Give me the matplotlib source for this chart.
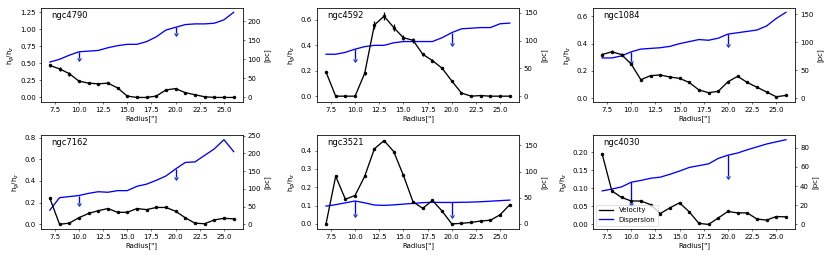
import numpy as np
import matplotlib
matplotlib.use("Agg")
import matplotlib.pyplot as plt
from matplotlib.ticker import MultipleLocator
from matplotlib.lines import Line2D

plt.rcParams['lines.linewidth'] = 1.9

# radii sampled in every galaxy (arcsec)
radius = list(range(7, 27))

galaxies = ["ngc4790", "ngc4592", "ngc1084", "ngc7162", "ngc3521", "ngc4030"]

# velocity based ratio h_g/h_z
vel_4790 = [0.47, 0.42, 0.35, 0.24, 0.21, 0.20, 0.21, 0.14, 0.02, 0.0, 0.0, 0.02, 0.11, 0.13, 0.07, 0.04, 0.01, 0.0, 0.0, 0.0]
vel_4592 = [0.19, 0.0, 0.0, 0.0, 0.18, 0.56, 0.63, 0.54, 0.46, 0.44, 0.33, 0.28, 0.22, 0.12, 0.025, 0.0, 0.005, 0.0, 0.0, 0.0]
vel_1084 = [0.32, 0.34, 0.32, 0.25, 0.135, 0.165, 0.17, 0.155, 0.145, 0.115, 0.06, 0.04, 0.05, 0.12, 0.16, 0.115, 0.08, 0.045, 0.01, 0.02]
vel_7162 = [0.24, 0.0, 0.01, 0.06, 0.10, 0.125, 0.145, 0.11, 0.11, 0.145, 0.135, 0.155, 0.155, 0.12, 0.06, 0.01, 0.005, 0.04, 0.055, 0.05]
vel_3521 = [0.0, 0.26, 0.135, 0.155, 0.26, 0.41, 0.455, 0.395, 0.265, 0.12, 0.085, 0.128, 0.07, 0.0, 0.003, 0.008, 0.016, 0.02, 0.05, 0.105]
vel_4030 = [0.195, 0.093, 0.075, 0.065, 0.065, 0.055, 0.03, 0.046, 0.06, 0.035, 0.003, 0.0, 0.018, 0.036, 0.032, 0.032, 0.015, 0.012, 0.022, 0.021]

# small uncertainties on the velocity ratio
err_4790 = [0.02, 0.03, 0.03, 0.01, 0.01, 0.01, 0.01, 0.01, 0.01, 0.0, 0.0, 0.01, 0.01, 0.01, 0.01, 0.01, 0.0, 0.0, 0.0, 0.0]
err_4592 = [0.01, 0.0, 0.01, 0.0, 0.01, 0.03, 0.03, 0.03, 0.02, 0.02, 0.01, 0.01, 0.01, 0.01, 0.0, 0.0, 0.0, 0.0, 0.0, 0.0]
err_1084 = [0.01, 0.01, 0.01, 0.01, 0.005, 0.005, 0.005, 0.005, 0.005, 0.005, 0.005, 0.005, 0.005, 0.005, 0.005, 0.005, 0.005, 0.005, 0.005, 0.005]
err_7162 = [0.01, 0.005, 0.005, 0.005, 0.005, 0.005, 0.005, 0.005, 0.005, 0.005, 0.005, 0.005, 0.005, 0.005, 0.005, 0.005, 0.005, 0.005, 0.005, 0.005]
err_3521 = [0.005, 0.005, 0.005, 0.005, 0.005, 0.005, 0.005, 0.005, 0.005, 0.005, 0.005, 0.005, 0.005, 0.005, 0.002, 0.002, 0.002, 0.002, 0.002, 0.002]
err_4030 = [0.002, 0.002, 0.002, 0.002, 0.002, 0.002, 0.002, 0.002, 0.002, 0.002, 0.001, 0.001, 0.001, 0.001, 0.001, 0.001, 0.001, 0.001, 0.001, 0.001]

# dispersion based ratio h_g/h_z
disp_4790 = [0.52, 0.56, 0.62, 0.67, 0.68, 0.69, 0.73, 0.76, 0.78, 0.78, 0.82, 0.89, 0.99, 1.03, 1.07, 1.08, 1.08, 1.09, 1.14, 1.25]
disp_4592 = [0.33, 0.33, 0.345, 0.37, 0.39, 0.40, 0.40, 0.42, 0.43, 0.43, 0.43, 0.43, 0.46, 0.50, 0.53, 0.535, 0.54, 0.54, 0.57, 0.575]
disp_1084 = [0.295, 0.295, 0.31, 0.34, 0.36, 0.365, 0.37, 0.38, 0.40, 0.415, 0.43, 0.425, 0.44, 0.47, 0.48, 0.49, 0.50, 0.53, 0.585, 0.63]
disp_7162 = [0.13, 0.245, 0.255, 0.265, 0.285, 0.30, 0.295, 0.31, 0.31, 0.35, 0.37, 0.405, 0.445, 0.51, 0.57, 0.575, 0.635, 0.695, 0.78, 0.67]
disp_3521 = [0.097, 0.105, 0.115, 0.125, 0.115, 0.103, 0.101, 0.104, 0.108, 0.112, 0.116, 0.118, 0.117, 0.117, 0.118, 0.119, 0.121, 0.124, 0.127, 0.13]
disp_4030 = [0.093, 0.098, 0.104, 0.117, 0.122, 0.128, 0.131, 0.139, 0.148, 0.158, 0.163, 0.168, 0.183, 0.192, 0.198, 0.207, 0.215, 0.223, 0.229, 0.235]

# upper limit arrows at 10" and 20"
limit_radius = [10, 20]
limit_len = [0.09, 0.08, 0.07, 0.07, 0.07, 0.058]

# pc per unit of h_g/h_z (right axis)
pc_scale = [178.7, 228.6, 243.9, 305.5, 349.6, 376.0]

# tick steps for left and right axes
left_step = [0.25, 0.2, 0.2, 0.2, 0.1, 0.05]
right_step = [50, 50, 50, 50, 50, 20]

velocities = [vel_4790, vel_4592, vel_1084, vel_7162, vel_3521, vel_4030]
errors = [err_4790, err_4592, err_1084, err_7162, err_3521, err_4030]
dispersions = [disp_4790, disp_4592, disp_1084, disp_7162, disp_3521, disp_4030]

fig, axes = plt.subplots(2, 3, figsize=(830 / 50, 260 / 50), dpi=50)
plt.subplots_adjust(left=0.049, right=0.958, top=0.969, bottom=0.119, wspace=0.366, hspace=0.36)

for i, ax in enumerate(axes.flat):
    vel = np.array(velocities[i])
    disp = np.array(dispersions[i])
    ax.errorbar(radius, vel, yerr=errors[i], fmt='.-', color='k', markersize=8)
    ax.plot(radius, disp, color='b')
    idx = [radius.index(r) for r in limit_radius]
    ax.errorbar(limit_radius, disp[idx], yerr=limit_len[i], uplims=True, fmt='none', ecolor='b')
    ax.text(0.05, 0.92, galaxies[i], transform=ax.transAxes, fontsize=12, va='center')
    ax.xaxis.set_major_locator(MultipleLocator(2.5))
    ax.yaxis.set_major_locator(MultipleLocator(left_step[i]))
    ax.set_xlabel('Radius["]')
    ax.set_ylabel(r'h$_g$/h$_z$')
    ax2 = ax.twinx()
    lo, hi = ax.get_ylim()
    ax2.set_ylim(lo * pc_scale[i], hi * pc_scale[i])
    ax2.yaxis.set_major_locator(MultipleLocator(right_step[i]))
    ax2.set_ylabel('[pc]')
    if i == 5:
        handles = [Line2D([], [], color='k'), Line2D([], [], color='b')]
        ax.legend(handles, ['Velocity', 'Dispersion'], loc='lower left')

plt.savefig("out.png", dpi=50)
